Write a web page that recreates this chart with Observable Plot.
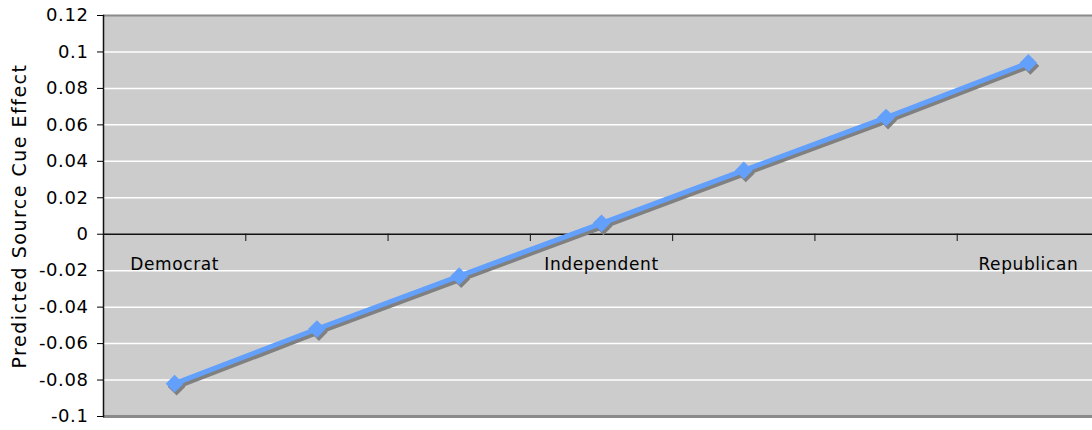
<!DOCTYPE html>
<html>
<head>
<meta charset="utf-8">
<script src="https://cdn.jsdelivr.net/npm/d3@7"></script>
<script src="https://cdn.jsdelivr.net/npm/@observablehq/plot@0.6"></script>
<style>
  html, body { margin: 0; padding: 0; background: #fff; }
  #chart svg { display: block; }
</style>
</head>
<body>
<div id="chart"></div>
<script>
const categories = ["Democrat", "", "", "Independent", "", "", "Republican"];
const values = [-0.082, -0.052, -0.023, 0.006, 0.035, 0.064, 0.094];
const yTicks = [-0.1, -0.08, -0.06, -0.04, -0.02, 0, 0.02, 0.04, 0.06, 0.08, 0.1, 0.12];
const yTitle = "Predicted Source Cue Effect";

const data = categories.map((c, i) => ({ i, c, v: values[i] }));
const boundaries = d3.range(categories.length - 1).map(i => i + 0.5);
const blue = "#62a0fc";
const shadow = "#808080";

const chart = Plot.plot({
  width: 1092,
  height: 430,
  marginLeft: 103,
  marginRight: 0,
  marginTop: 15,
  marginBottom: 14,
  x: { domain: [-0.5, categories.length - 0.5], range: [103, 1099], axis: null },
  y: { domain: [-0.1, 0.12], axis: null },
  style: { fontFamily: "'DejaVu Sans', Verdana, sans-serif", fontSize: "17px", color: "#000", background: "#fff", letterSpacing: "0.6px" },
  marks: [
    Plot.frame({ fill: "#cccccc" }),
    Plot.ruleY(yTicks.filter(t => t !== 0 && t > -0.1 && t < 0.12), { stroke: "#ffffff", strokeWidth: 1.5 }),
    Plot.ruleY([0.12], { stroke: "#8a8a8a", strokeWidth: 2 }),
    Plot.ruleY([-0.1], { stroke: "#8a8a8a", strokeWidth: 3 }),
    Plot.ruleY([0], { stroke: "#111", strokeWidth: 1.5 }),
    Plot.ruleX(boundaries, { y1: 0, y2: -0.004, stroke: "#111", strokeWidth: 1 }),
    Plot.frame({ anchor: "left", stroke: "#111", strokeWidth: 1.5 }),
    Plot.axisY({
      ticks: yTicks,
      tickFormat: d => String(+d.toFixed(2)),
      tickSize: 6,
      tickPadding: 9,
      fontSize: 18,
      label: null
    }),
    Plot.text([yTitle], { frameAnchor: "left", textAnchor: "middle", lineAnchor: "middle", text: d => d, rotate: -90, dx: -84, fontSize: 19, className: "ytitle" }),
    Plot.text(data, { x: "i", y: 0, text: "c", dy: 30, fontSize: 17 }),
    Plot.line(data, { x: "i", y: "v", dx: 2, dy: 3, stroke: shadow, strokeWidth: 5 }),
    Plot.dot(data, { x: "i", y: "v", dx: 2, dy: 3, symbol: "diamond2", r: 8, fill: shadow }),
    Plot.line(data, { x: "i", y: "v", stroke: blue, strokeWidth: 5 }),
    Plot.dot(data, { x: "i", y: "v", symbol: "diamond2", r: 8, fill: blue })
  ]
});
d3.select(chart).selectAll(".ytitle text").style("letter-spacing", "1.5px");
document.getElementById("chart").appendChild(chart);
</script>
</body>
</html>
